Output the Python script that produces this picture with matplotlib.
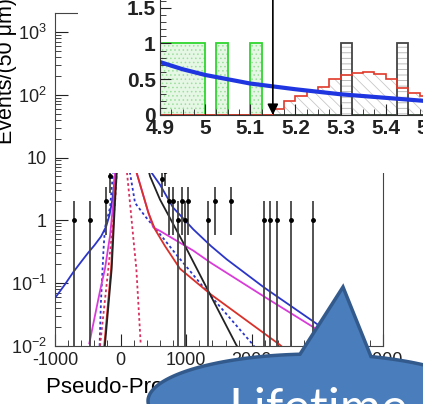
import numpy as np
import matplotlib
matplotlib.use('Agg')
import matplotlib.pyplot as plt
from matplotlib.patches import Rectangle, Polygon
from matplotlib.ticker import MultipleLocator, LogLocator, FixedLocator, NullFormatter, FuncFormatter

plt.rcParams['font.family'] = ['Liberation Sans', 'DejaVu Sans']
plt.rcParams['axes.unicode_minus'] = False
plt.rcParams['hatch.linewidth'] = 0.6

# ---- main plot: data points (pseudo-proper decay length, events) ----
pt_x = [-710, -466, -227, -162, 626, 677, 742, 803, 880, 931, 982, 1032,
        1337, 1439, 1683, 2186, 2277, 2389, 2593, 2938]
pt_y = [1, 1, 2, 5, 4.5, 6, 2, 2, 1, 2, 1, 2, 1, 2, 2, 1, 1, 1, 1, 1]

# fit components
blue_x = [-1000, -850, -721, -600, -500, -400, -300, -220, -170, -130, -100, -70, -40, 0, 100, 300, 474, 600, 800, 1108, 1378, 1617, 2190, 3004, 3400]
blue_y = [0.058, 0.095, 0.15, 0.22, 0.3, 0.4, 0.55, 0.8, 1.2, 2.0, 3.6, 9, 40, 300, 150, 20, 5.7, 3.7, 1.6, 0.72, 0.39, 0.24, 0.085, 0.022, 0.012]

bdot_x = [-320, -300, -260, -238, -160, -116, -60, 0, 93, 143, 220, 372, 626, 855, 956, 1378, 2014, 2100]
bdot_y = [0.01, 0.05, 0.35, 0.77, 1.6, 5.8, 40, 300, 20, 5.7, 1.9, 1.17, 0.56, 0.28, 0.21, 0.062, 0.0106, 0.008]

mag_x = [-477, -314, -238, -162, -111, -85, -40, 0, 100, 245, 423, 499, 600, 1108, 1378, 2190, 2953, 3300]
mag_y = [0.011, 0.075, 0.17, 0.56, 1.9, 5.8, 40, 300, 60, 5.7, 1.33, 0.77, 0.68, 0.33, 0.21, 0.061, 0.0195, 0.011]

red_x = [-250, -145, -92, -50, 0, 100, 245, 423, 524, 677, 905, 1378, 2419, 2500]
red_y = [0.01, 0.17, 2, 15, 300, 60, 5.7, 1.33, 0.72, 0.39, 0.17, 0.066, 0.0106, 0.009]

rdot_x = [-314, -187, -85, -30, 0, 40, 93, 143, 200, 240, 306]
rdot_y = [0.01, 0.17, 1.9, 20, 300, 50, 6.4, 1.9, 0.45, 0.17, 0.011]

blk_x = [-240, -136, -85, -40, 0, 150, 300, 450, 600, 1007, 1378, 1759, 1800]
blk_y = [0.01, 0.17, 2, 12, 300, 100, 20, 5, 2.15, 0.35, 0.062, 0.0106, 0.009]

# ---- inset: mass histogram ----
bin_w = 0.025
green_bins = [4.9, 4.925, 4.95, 4.975, 5.025, 5.1]
gray_bins = [5.3, 5.425]
red_bins = [5.15, 5.175, 5.2, 5.225, 5.25, 5.275, 5.3, 5.325, 5.35, 5.375, 5.4, 5.425, 5.45, 5.475]
red_h = [0.08, 0.2, 0.26, 0.33, 0.39, 0.5, 0.56, 0.59, 0.6, 0.57, 0.5, 0.38, 0.31, 0.26]
fit_m = [4.9, 4.95, 5.0, 5.05, 5.1, 5.15, 5.2, 5.3, 5.4, 5.5, 5.6]
fit_v = [0.74, 0.64, 0.56, 0.5, 0.44, 0.4, 0.36, 0.29, 0.24, 0.19, 0.16]
cut_m = 5.15

W, H = 423, 404
fig = plt.figure(figsize=(W / 100, H / 100), dpi=100)

ax = fig.add_axes([55 / W, 1 - 346 / H, 328 / W, 333 / H])
ax.set_yscale('log')
ax.set_xlim(-1000, 4000)
ax.set_ylim(0.01, 2000)

lw = 1.3
ax.plot(blue_x, blue_y, color='#2b35c8', lw=lw)
ax.plot(bdot_x, bdot_y, color='#2b35c8', lw=lw, ls=(0, (1.5, 1.5)))
ax.plot(mag_x, mag_y, color='#d93bd9', lw=lw)
ax.plot(red_x, red_y, color='#d9302a', lw=lw)
ax.plot(rdot_x, rdot_y, color='#d83060', lw=lw, ls=(0, (1.5, 1.5)))
ax.plot(blk_x, blk_y, color='#222222', lw=lw)

py = np.array(pt_y, dtype=float)
err = np.sqrt(py)
lo = np.clip(py - err, 1e-4, None)
ax.vlines(pt_x, lo, py + err, color='#444444', lw=1.3)
ax.plot(pt_x, pt_y, 'o', color='black', ms=2.5)

ax.tick_params(direction='in', which='both', top=False, right=False, labelsize=13, colors='#222222')
ax.tick_params(which='major', length=9)
ax.tick_params(which='minor', length=4.5)
ax.tick_params(axis='y', pad=6)
ax.tick_params(axis='x', pad=4)
ax.xaxis.set_major_locator(MultipleLocator(1000))
ax.xaxis.set_minor_locator(MultipleLocator(200))
ax.yaxis.set_major_locator(FixedLocator([0.01, 0.1, 1, 10, 100, 1000]))
ax.yaxis.set_major_formatter(FuncFormatter(
    lambda v, p: {0.01: r'$\mathregular{10^{-2}}$', 0.1: r'$\mathregular{10^{-1}}$', 1: '1', 10: '10',
                  100: r'$\mathregular{10^{2}}$', 1000: r'$\mathregular{10^{3}}$'}.get(round(v, 4), '')))
ax.yaxis.set_minor_locator(LogLocator(base=10, subs=np.arange(2, 10), numticks=20))
ax.yaxis.set_minor_formatter(NullFormatter())
for s in ax.spines.values():
    s.set_color('#444444')
ax.set_xlabel('Pseudo-Proper Decay Length (μm)', fontsize=16, labelpad=6)
ax.set_ylabel('Events/(50 μm)', fontsize=15.5, loc='top')
ax.yaxis.set_label_coords(-38 / 328, 1.045)

# white pad behind the inset
fig.add_artist(Rectangle((78 / W, 1 - 173 / H), 345 / W, 173 / H, transform=fig.transFigure,
                         facecolor='white', edgecolor='none', zorder=1))

# ---- inset ----
axin = fig.add_axes([160 / W, 1 - 115 / H, 316 / W, 121.6 / H], zorder=2)
axin.set_xlim(4.9, 5.6)
axin.set_ylim(0, 1.7)
edges = np.round(np.arange(4.9, 5.6 + bin_w / 2, bin_w), 3)
starts = edges[:-1]
green_c = np.isin(starts, green_bins).astype(float)
gray_c = np.isin(starts, gray_bins).astype(float)
red_c = np.zeros(len(starts))
for b, h in zip(red_bins, red_h):
    red_c[np.isclose(starts, b)] = h

axin.stairs(green_c, edges, fill=True, facecolor='#e6f7e6', edgecolor='#9be09b', hatch='....', lw=0)
axin.stairs(green_c, edges, color='#2fd62f', lw=1.3)
axin.stairs(red_c, edges, fill=True, facecolor='none', edgecolor='#c8c8c8', hatch='\\\\\\', lw=0)
axin.stairs(gray_c, edges, fill=True, facecolor='white', edgecolor='#b0b0b0', hatch='---', lw=0)
axin.stairs(gray_c, edges, color='#444444', lw=1.3)
axin.stairs(red_c, edges, color='#e03a2a', lw=1.2)
axin.plot(fit_m, fit_v, color='#1f35e0', lw=3)
axin.annotate('', xy=(cut_m, 0), xytext=(cut_m, 1.9),
              arrowprops=dict(arrowstyle='-|>', color='black', lw=1.2, mutation_scale=16,
                              shrinkA=0, shrinkB=0))

axin.xaxis.set_major_locator(MultipleLocator(0.1))
axin.xaxis.set_minor_locator(MultipleLocator(0.025))
axin.yaxis.set_major_locator(MultipleLocator(0.5))
axin.yaxis.set_minor_locator(MultipleLocator(0.1))
fmt = FuncFormatter(lambda v, p: '%g' % round(v, 2))
axin.xaxis.set_major_formatter(fmt)
axin.yaxis.set_major_formatter(fmt)
axin.tick_params(direction='in', which='both', top=False, right=False, colors='#222222')
axin.tick_params(which='major', length=8, labelsize=15)
axin.tick_params(which='minor', length=4)
axin.tick_params(axis='y', pad=3)
axin.tick_params(axis='x', pad=3)
for lab in axin.get_xticklabels() + axin.get_yticklabels():
    lab.set_fontweight('bold')
for s in axin.spines.values():
    s.set_color('#333333')

# ---- speech bubble overlay ----
ov = fig.add_axes([0, 0, 1, 1], zorder=5)
ov.set_xlim(0, W)
ov.set_ylim(H, 0)
ov.axis('off')
cx, cy, ea, eb = 316, 401, 168, 47
tip = (343, 287)
t0 = np.degrees(np.arccos((371 - cx) / ea))
t1 = np.degrees(np.arccos((300 - cx) / ea)) - 360
th = np.radians(np.linspace(t0, t1, 200))
pts = np.column_stack([cx + ea * np.cos(th), cy - eb * np.sin(th)])
pts = np.vstack([pts, tip])
ov.add_patch(Polygon(pts, closed=True, facecolor='#4a7dbb', edgecolor='#335a8c', lw=2.5, joinstyle='miter'))
ov.text(228, 424, 'Lifetime', color='white', fontsize=36, family=['Lato', 'DejaVu Sans'], va='baseline')

fig.savefig('out.png', dpi=100)
